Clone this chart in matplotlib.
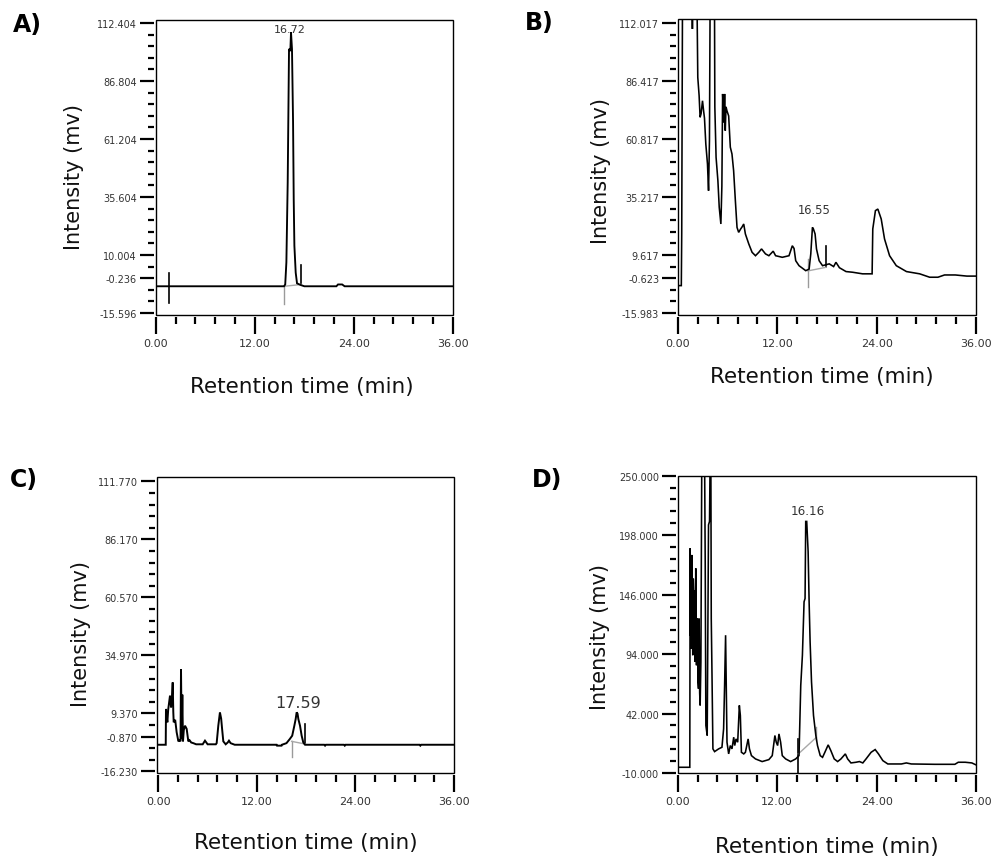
import numpy as np
import matplotlib
matplotlib.use("Agg")
import matplotlib.pyplot as plt
from matplotlib.patches import Rectangle
from matplotlib.ticker import FixedLocator, FixedFormatter

# ---------------- data (retention time [min], intensity [mV]) ----------------
panel_letters = ["A)", "B)", "C)", "D)"]
peak_labels = ["16.72", "16.55", "17.59", "16.16"]

# y tick labels of each panel
ticks_a = [112.404, 86.804, 61.204, 35.604, 10.004, -0.236, -15.596]
ticks_b = [112.017, 86.417, 60.817, 35.217, 9.617, -0.623, -15.983]
ticks_c = [111.770, 86.170, 60.570, 34.970, 9.370, -0.870, -16.230]
ticks_d = [250.000, 198.000, 146.000, 94.000, 42.000, -10.000]
x_ticks = [0.0, 12.0, 24.0, 36.0]

# chromatogram traces (time, intensity); values above the axis are off-scale
trace_a = [(0, -3.8), (15.55, -3.8), (15.70, -3.0), (15.84, 6.8), (16.00, 42.0),
           (16.16, 101.0), (16.32, 100.0), (16.40, 108.3), (16.52, 100.9),
           (16.65, 68.6), (16.73, 34.5), (16.81, 14.1), (16.97, 2.2), (17.13, -2.5),
           (17.54, -3.2), (18.02, -3.8), (21.9, -3.8), (22.1, -3.0), (22.6, -3.0),
           (22.9, -3.8), (36.0, -3.8)]

trace_b = [(0, -3.9), (0.40, -3.9), (0.45, 18.9), (0.55, 130), (1.70, 130), (1.74, 109.4),
           (1.78, 130), (2.27, 130), (2.39, 88.0), (2.55, 80.0), (2.67, 70.4), (2.79, 72.0),
           (2.96, 77.7), (3.10, 73.0), (3.20, 70.0), (3.36, 58.6), (3.56, 49.8), (3.69, 38.0),
           (3.80, 60.0), (3.89, 130), (4.40, 130), (4.45, 75.0), (4.60, 52.7), (4.82, 42.4),
           (4.98, 30.7), (5.18, 23.3), (5.30, 40.0), (5.39, 80.7), (5.55, 68.0), (5.63, 80.7),
           (5.71, 64.5), (5.80, 75.0), (5.91, 73.3), (6.12, 71.0), (6.32, 57.2), (6.52, 54.2),
           (6.72, 46.8), (6.93, 33.6), (7.13, 21.8), (7.33, 19.6), (7.55, 21.0), (7.74, 22.0),
           (7.94, 23.3), (8.14, 18.9), (8.55, 14.5), (8.95, 10.8), (9.36, 9.3), (9.76, 10.8),
           (10.09, 12.3), (10.57, 10.1), (10.98, 9.3), (11.50, 11.3), (11.79, 9.3),
           (12.60, 8.6), (13.41, 9.3), (13.81, 13.7), (14.02, 12.5), (14.22, 7.1),
           (14.62, 4.9), (15.43, 2.7), (15.84, 3.4), (16.04, 10.1), (16.24, 21.8),
           (16.36, 21.1), (16.56, 18.9), (16.73, 12.3), (17.05, 7.1), (17.46, 4.9),
           (18.27, 5.7), (18.80, 4.5), (19.08, 6.4), (19.50, 4.0), (20.30, 2.3), (21.10, 2.0),
           (22.30, 1.3), (23.45, 1.3), (23.53, 21.1), (23.85, 29.2), (24.14, 29.9),
           (24.55, 25.5), (24.95, 16.7), (25.56, 9.3), (26.37, 4.9), (27.60, 2.3),
           (29.20, 1.3), (30.40, -0.2), (31.40, -0.2), (32.20, 0.8), (33.50, 0.8),
           (34.90, 0.3), (36.0, 0.3)]

trace_c = [(0, -4.5), (0.90, -4.5), (0.93, 11.3), (1.00, 8.4), (1.10, 5.4), (1.20, 11.0),
           (1.42, 17.2), (1.55, 12.0), (1.62, 14.2), (1.75, 23.0), (1.82, 10.0), (1.87, 5.4),
           (2.05, 6.5), (2.23, 1.0), (2.44, -3.0), (2.60, -2.5), (2.70, -3.0), (2.76, 28.9),
           (2.84, -2.0), (2.92, 17.6), (3.00, -3.0), (3.10, 2.0), (3.25, 3.9), (3.45, 2.5),
           (3.65, -3.0), (3.80, -2.5), (4.00, -3.5), (4.26, -3.8), (4.60, -4.3), (5.40, -4.3),
           (5.68, -2.7), (6.00, -4.3), (7.00, -4.3), (7.10, -3.8), (7.30, 3.9), (7.50, 9.8),
           (7.65, 7.0), (7.75, 3.0), (7.91, -3.0), (8.20, -4.3), (8.45, -3.5), (8.60, -2.7),
           (8.80, -3.8), (9.30, -4.5), (14.40, -4.5), (14.45, -4.9), (15.00, -4.9),
           (15.05, -4.5), (15.60, -3.8), (16.00, -2.0), (16.30, -0.5), (16.56, 3.9),
           (16.72, 6.8), (16.84, 9.8), (16.95, 9.2), (17.05, 6.8), (17.25, 3.9),
           (17.45, -0.5), (17.65, -3.5), (17.86, -4.5), (20.20, -4.5), (20.30, -4.9),
           (20.40, -4.5), (22.60, -4.5), (22.70, -4.9), (22.80, -4.5), (31.80, -4.5),
           (31.90, -4.9), (32.00, -4.5), (36.0, -4.5)]

trace_d = [(0, -5.0), (1.46, -5.0), (1.50, 186.5), (1.56, 110.0), (1.60, 178.0), (1.64, 98.8),
           (1.70, 180.7), (1.76, 120.0), (1.82, 93.0), (1.88, 160.0), (1.94, 145.6),
           (2.00, 95.0), (2.04, 150.0), (2.10, 87.1), (2.18, 169.0), (2.23, 100.0),
           (2.27, 84.2), (2.33, 120.0), (2.39, 125.1), (2.45, 70.0), (2.51, 63.7),
           (2.55, 110.0), (2.59, 125.0), (2.65, 60.0), (2.71, 49.1), (2.80, 87.0),
           (2.91, 270), (3.24, 270), (3.32, 174.8), (3.40, 31.5), (3.56, 22.8), (3.72, 207.0),
           (3.84, 210.0), (3.92, 270), (4.00, 270), (4.05, 125.1), (4.13, 81.3), (4.25, 11.1),
           (4.45, 8.7), (4.94, 11.1), (5.34, 12.5), (5.54, 28.6), (5.66, 66.6), (5.78, 110.5),
           (5.86, 66.6), (5.95, 16.9), (6.15, 6.7), (6.35, 14.0), (6.55, 11.1), (6.76, 21.3),
           (6.88, 14.0), (7.04, 19.8), (7.24, 16.9), (7.44, 49.1), (7.56, 40.3), (7.69, 8.1),
           (7.97, 6.7), (8.17, 8.1), (8.50, 19.8), (8.66, 11.1), (8.90, 5.2), (9.39, 2.3),
           (10.19, 0.0), (11.00, 1.7), (11.41, 5.2), (11.73, 22.8), (11.89, 17.0),
           (12.06, 14.0), (12.22, 24.2), (12.42, 17.0), (12.62, 5.2), (13.03, 2.3),
           (13.63, 0.0), (14.24, 2.3), (14.64, 5.2), (14.85, 66.6), (15.05, 93.0),
           (15.25, 139.7), (15.37, 142.6), (15.45, 210.0), (15.57, 210.0), (15.74, 183.6),
           (15.86, 139.7), (15.98, 104.6), (16.15, 69.6), (16.39, 40.3), (16.67, 22.8),
           (16.87, 14.0), (17.20, 5.2), (17.48, 3.7), (17.76, 8.1), (18.16, 14.6),
           (18.48, 9.6), (18.89, 2.3), (19.30, 0.0), (19.70, 2.3), (20.23, 6.7), (20.51, 2.3),
           (20.91, -1.2), (21.52, -0.6), (21.93, 0.0), (22.34, -1.2), (22.73, 2.3),
           (23.34, 8.1), (23.83, 10.5), (24.23, 6.7), (24.76, 0.8), (25.36, -2.1),
           (27.00, -2.1), (27.59, -1.2), (28.20, -2.1), (31.03, -2.4), (33.45, -2.4),
           (33.86, -0.6), (34.70, -0.6), (35.50, -1.2), (36.0, -2.9)]

# integration marks: (time, intensity from, intensity to, colour)
marks_a = [(1.62, 2.1, -11.2, "black"), (17.66, 5.8, -2.8, "black"), (15.59, -3.8, -11.6, "#9a9a9a")]
marks_b = [(17.90, 13.7, 4.2, "black"), (15.70, 7.9, -4.6, "#9a9a9a")]
marks_c = [(17.90, 4.7, -4.2, "black"), (16.23, -3.0, -9.9, "#9a9a9a")]
marks_d = [(14.56, 19.8, -10.0, "black"), (16.75, 30.0, 19.0, "#9a9a9a")]

# integration baselines: (t0, v0, t1, v1)
base_a = (15.59, -3.8, 17.66, -3.0)
base_b = (15.70, 2.6, 17.90, 4.2)
base_c = (16.23, -3.0, 17.90, -4.2)
base_d = (14.56, 6.7, 16.75, 21.3)

# peak label anchors (time, intensity)
label_pos = [(16.30, 109.8), (16.44, 29.6), (17.05, 14.2), (15.75, 219.4)]

# ---------------- layout ----------------
W, H = 991, 862
fig = plt.figure(figsize=(W / 100, H / 100), dpi=100)

def frac(l, r, t, b):
    return [l / W, 1 - b / H, (r - l) / W, (b - t) / H]

panels = [
    dict(rect=frac(155.7, 452.7, 20.7, 316.0), ticks=ticks_a, step=5.12, trace=trace_a,
         marks=marks_a, base=base_a, ylim=(-16.48, 113.86), xlim=(0, 36), lw=1.35,
         ylab=(-0.275, 0.472), xlab=(0.493, -0.239), letter=(27, 25), lfs=8),
    dict(rect=frac(678.0, 976.0, 20.0, 316.0), ticks=ticks_b, step=5.12, trace=trace_b,
         marks=marks_b, base=base_b, ylim=(-16.87, 113.78), xlim=(0, 36), lw=1.15,
         ylab=(-0.259, 0.491), xlab=(0.484, -0.207), letter=(539, 23), lfs=8.3),
    dict(rect=frac(156.7, 454.0, 477.7, 774.3), ticks=ticks_c, step=5.12, trace=trace_c,
         marks=marks_c, base=base_c, ylim=(-17.1, 113.8), xlim=(-0.2, 36), lw=1.4,
         ylab=(-0.256, 0.473), xlab=(0.501, -0.233), letter=(24, 480), lfs=11.5),
    dict(rect=frac(677.7, 976.0, 476.7, 774.0), ticks=ticks_d, step=10.4, trace=trace_d,
         marks=marks_d, base=base_d, ylim=(-10, 250), xlim=(0, 36), lw=1.15,
         ylab=(-0.259, 0.46), xlab=(0.5015, -0.245), letter=(547, 480), lfs=8.6),
]

for i, p in enumerate(panels):
    ax = fig.add_axes(p["rect"])
    t, v = np.array(p["trace"]).T
    ax.plot(t, v, color="black", lw=p["lw"], solid_joinstyle="miter", zorder=3)
    for (tm, v0, v1, c) in p["marks"]:
        ax.plot([tm, tm], [v0, v1], color=c, lw=1.0 if c != "black" else 1.2, zorder=2)
    t0, v0, t1, v1 = p["base"]
    ax.plot([t0, t1], [v0, v1], color="#a8a8a8", lw=1.0, zorder=2)

    ax.set_xlim(*p["xlim"])
    ax.set_ylim(*p["ylim"])

    # y ticks
    tk = p["ticks"]
    lo, hi = min(tk), max(tk)
    n = int(round((hi - lo) / p["step"]))
    minors = [lo + k * p["step"] for k in range(n + 1)]
    minors = [m for m in minors if all(abs(m - M) > 1e-6 for M in tk)]
    ax.yaxis.set_major_locator(FixedLocator(tk))
    ax.yaxis.set_major_formatter(FixedFormatter([f"{x:.3f}" for x in tk]))
    ax.yaxis.set_minor_locator(FixedLocator(minors))
    # x ticks
    ax.xaxis.set_major_locator(FixedLocator(x_ticks))
    ax.xaxis.set_major_formatter(FixedFormatter([f"{x:.2f}" for x in x_ticks]))
    ax.xaxis.set_minor_locator(FixedLocator([k * 2.4 for k in range(16) if k % 5 != 0]))

    for s in ax.spines.values():
        s.set_visible(False)
    ax.spines["left"].set_position(("outward", 1.5))
    ax.spines["bottom"].set_position(("outward", 1.5))
    ax.add_patch(Rectangle((0, 0), 1, 1, transform=ax.transAxes, fill=False,
                           ec="black", lw=1.0, clip_on=False, zorder=5))

    ax.tick_params(axis="y", which="major", direction="out", length=10, width=1.6,
                   labelsize=7, pad=2, colors="black", labelcolor="#333333")
    ax.tick_params(axis="y", which="minor", direction="out", length=4.5, width=1.6, colors="black")
    ax.tick_params(axis="x", which="major", direction="out", length=12, width=1.6,
                   labelsize=8, pad=3, colors="black", labelcolor="#333333")
    ax.tick_params(axis="x", which="minor", direction="out", length=5, width=1.6, colors="black")

    ax.set_ylabel("Intensity (mv)", fontsize=15, va="center", color="#111111")
    ax.yaxis.set_label_coords(*p["ylab"])
    ax.set_xlabel("Retention time (min)", fontsize=15.5, va="center", color="#111111")
    ax.xaxis.set_label_coords(*p["xlab"])

    lx, ly = label_pos[i]
    ax.text(lx, ly, peak_labels[i], fontsize=p["lfs"], ha="center", va="center",
            color="#333333", zorder=4)

    fx, fy = p["letter"]
    fig.text(fx / W, 1 - fy / H, panel_letters[i], fontsize=17, fontweight="bold",
             ha="center", va="center")

fig.savefig("out.png", dpi=100)
